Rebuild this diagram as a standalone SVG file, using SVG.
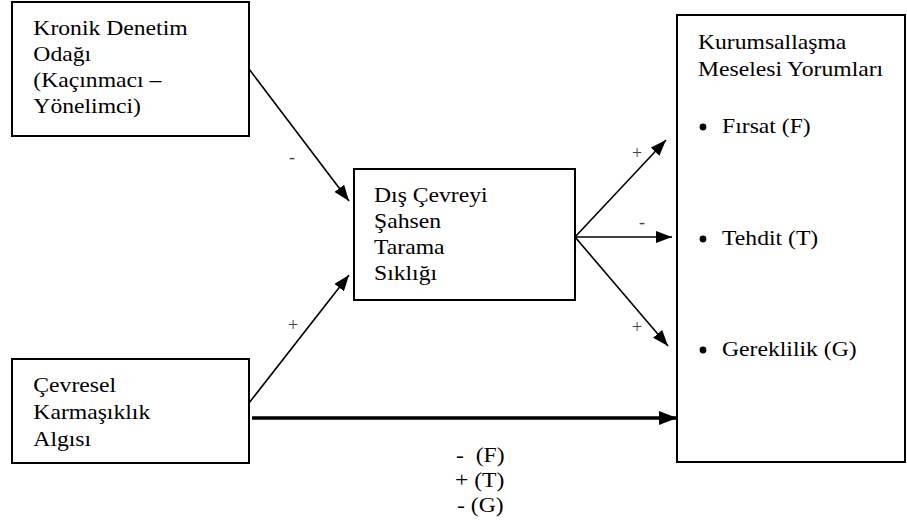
<svg xmlns="http://www.w3.org/2000/svg" width="907" height="524" viewBox="0 0 907 524">
<defs>
<style>
.box{fill:#fff;stroke:#000;stroke-width:2}
.t{font-family:'Liberation Serif','DejaVu Serif','Times New Roman',serif;font-size:21.5px;fill:#000}
.s{font-family:'Liberation Serif','DejaVu Serif','Times New Roman',serif;font-size:18px;fill:#444;text-anchor:middle}
.ln{stroke:#000;stroke-width:1.6;fill:none}
.thick{stroke:#000;stroke-width:3.5;fill:none}
</style>
<marker id="ah" markerUnits="userSpaceOnUse" markerWidth="16" markerHeight="12" refX="16" refY="6" orient="auto">
<path d="M0,0 L16,6 L0,12 z" fill="#000"/>
</marker>
<marker id="ahb" markerUnits="userSpaceOnUse" markerWidth="18" markerHeight="14" refX="18" refY="7" orient="auto">
<path d="M0,0 L18,7 L0,14 z" fill="#000"/>
</marker>
</defs>
<rect width="907" height="524" fill="#fff"/>

<g id="connectors">
<line class="ln" x1="249" y1="69" x2="349" y2="201" marker-end="url(#ah)"/>
<line class="ln" x1="249" y1="403" x2="349" y2="275" marker-end="url(#ah)"/>
<line class="ln" x1="575" y1="237" x2="666" y2="140" marker-end="url(#ah)"/>
<line class="ln" x1="575" y1="237" x2="672" y2="237" marker-end="url(#ah)"/>
<line class="ln" x1="575" y1="237" x2="668" y2="346" marker-end="url(#ah)"/>
<line class="thick" x1="252" y1="418" x2="677" y2="418" marker-end="url(#ahb)"/>
<text class="s" font-family="Liberation Serif, serif" x="292" y="163">-</text>
<text class="s" font-family="Liberation Serif, serif" x="293" y="331">+</text>
<text class="s" font-family="Liberation Serif, serif" x="637" y="159">+</text>
<text class="s" font-family="Liberation Serif, serif" x="642" y="228">-</text>
<text class="s" font-family="Liberation Serif, serif" x="637" y="333">+</text>
<g transform="scale(1.1 1)" font-family="Liberation Serif, serif">
<text class="t" x="414.5" y="462" xml:space="preserve">-  (F)</text>
<text class="t" x="413.6" y="487">+ (T)</text>
<text class="t" x="415.5" y="512">- (G)</text>
</g>
</g>

<g id="node-kronik">
<rect class="box" x="12" y="2" width="237" height="134"/>
<g transform="scale(1.1 1)" font-family="Liberation Serif, serif">
<text class="t" x="30.3" y="35">Kronik Denetim</text>
<text class="t" x="30.3" y="61">Odağı</text>
<text class="t" x="30.3" y="87">(Kaçınmacı –</text>
<text class="t" x="30.3" y="113">Yönelimci)</text>
</g>
</g>

<g id="node-tarama">
<rect class="box" x="354" y="169" width="221" height="131"/>
<g transform="scale(1.1 1)" font-family="Liberation Serif, serif">
<text class="t" x="340" y="202">Dış Çevreyi</text>
<text class="t" x="340" y="228">Şahsen</text>
<text class="t" x="340" y="254">Tarama</text>
<text class="t" x="340" y="280">Sıklığı</text>
</g>
</g>

<g id="node-cevresel">
<rect class="box" x="12" y="359" width="237" height="104"/>
<g transform="scale(1.1 1)" font-family="Liberation Serif, serif">
<text class="t" x="30.3" y="392">Çevresel</text>
<text class="t" x="30.3" y="419">Karmaşıklık</text>
<text class="t" x="30.3" y="446">Algısı</text>
</g>
</g>

<g id="node-yorumlar">
<rect class="box" x="677" y="15" width="228" height="447"/>
<circle cx="703" cy="127" r="3.4" fill="#000"/>
<circle cx="703" cy="239" r="3.4" fill="#000"/>
<circle cx="703" cy="350" r="3.4" fill="#000"/>
<g transform="scale(1.1 1)" font-family="Liberation Serif, serif">
<text class="t" x="634.5" y="49">Kurumsallaşma</text>
<text class="t" x="634.5" y="76">Meselesi Yorumları</text>
<text class="t" x="656.4" y="133">Fırsat (F)</text>
<text class="t" x="656.4" y="245">Tehdit (T)</text>
<text class="t" x="656.4" y="356">Gereklilik (G)</text>
</g>
</g>
</svg>
